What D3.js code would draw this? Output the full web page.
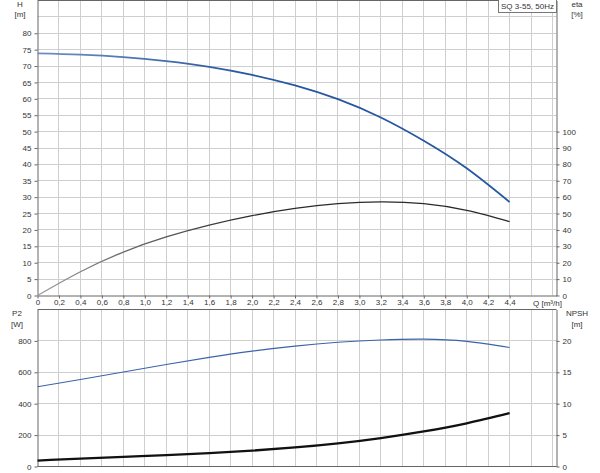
<!DOCTYPE html>
<html><head><meta charset="utf-8">
<script src="https://cdn.jsdelivr.net/npm/d3@7"></script>
<style>
html,body{margin:0;padding:0;background:#fff;}
svg{display:block;font-family:"Liberation Sans",Arial,sans-serif;}
.tick text{font-size:8px;fill:#333;}
.lbl{font-size:8px;fill:#333;}
</style></head>
<body>
<svg id="c" width="600" height="473"></svg>
<script>
// ---- data ----
const flow = [0, 0.4, 0.8, 1.2, 1.6, 2.0, 2.4, 2.8, 3.2, 3.6, 4.0, 4.4];
const head = [73.9, 73.5, 72.75, 71.5, 69.75, 67.3, 64.1, 59.9, 54.3, 47.2, 38.8, 28.5];
const eta  = [0, 14.5, 26.5, 35.7, 42.9, 48.7, 53.1, 56.0, 57.1, 56.0, 51.9, 45.1];
const p2   = [508, 554, 602, 650, 695, 735, 767, 791, 806, 811, 797, 758];
const npsh = [0.95, 1.25, 1.53, 1.81, 2.13, 2.53, 3.03, 3.68, 4.53, 5.58, 6.88, 8.5];
const qTicks = [0,0.2,0.4,0.6,0.8,1.0,1.2,1.4,1.6,1.8,2.0,2.2,2.4,2.6,2.8,3.0,3.2,3.4,3.6,3.8,4.0,4.2,4.4];
const qGrid = [0.2,0.4,0.6,0.8,1.0,1.2,1.4,1.6,1.8,2.0,2.2,2.4,2.6,2.8,3.0,3.2,3.4,3.6,3.8,4.0,4.2,4.4,4.6,4.8];
const hTicks = [0,5,10,15,20,25,30,35,40,45,50,55,60,65,70,75,80];
const hGrid = [5,10,15,20,25,30,35,40,45,50,55,60,65,70,75,80,85];
const etaTicks = [0,10,20,30,40,50,60,70,80,90,100];
const p2Ticks = [0,200,400,600,800];
const p2Grid = [200,400,600,800];
const npshTicks = [0,5,10,15,20];
const title = "SQ 3-55, 50Hz";

// ---- layout ----
const svg = d3.select("#c");
const L = 37.5, R = 556.5;
const x = d3.scaleLinear().domain([0, 4.837]).range([L, R]);
const topY0 = 295.5, topY1 = 0.5;
const yH = d3.scaleLinear().domain([0, 90]).range([topY0, topY1]);
const yE = d3.scaleLinear().domain([0, 180]).range([topY0, topY1]);
const botY0 = 466.5, botY1 = 309.5;
const yP = d3.scaleLinear().domain([0, 1000]).range([botY0, botY1]);
const yN = d3.scaleLinear().domain([0, 25]).range([botY0, botY1]);

const gridCol = "#cfcfcf", axCol = "#666";
const crisp = v => Math.round(v - 0.5) + 0.5;

function grid(y, yTop, yBot, hvals) {
  const g = svg.append("g");
  g.selectAll("line.v").data(qGrid).join("line").attr("class", "v")
    .attr("x1", d => crisp(x(d))).attr("x2", d => crisp(x(d)))
    .attr("y1", yTop).attr("y2", yBot)
    .attr("stroke", gridCol).attr("stroke-width", 1);
  g.selectAll("line.h").data(hvals).join("line").attr("class", "h")
    .attr("x1", L).attr("x2", R)
    .attr("y1", d => crisp(y(d))).attr("y2", d => crisp(y(d)))
    .attr("stroke", gridCol).attr("stroke-width", 1);
}
grid(yH, topY1, topY0, hGrid);
grid(yP, botY1, botY0, p2Grid);

function styleAxis(g) {
  g.select(".domain").attr("stroke", axCol);
  g.selectAll(".tick line").attr("stroke", axCol);
}

// top panel axes
const fmtQ = d => d === 0 ? "0" : d.toFixed(1).replace(".", ",");
svg.append("g").attr("transform", `translate(${L},0)`)
  .call(d3.axisLeft(yH).tickValues(hTicks).tickSize(3).tickSizeOuter(0).tickPadding(3))
  .call(styleAxis);
svg.append("g").attr("transform", `translate(${R},0)`)
  .call(d3.axisRight(yE).tickValues(etaTicks).tickSize(3).tickSizeOuter(0).tickPadding(3))
  .call(styleAxis);
svg.append("g").attr("transform", `translate(0,${topY0})`)
  .call(d3.axisBottom(x).tickValues(qTicks).tickFormat(fmtQ).tickSize(3).tickSizeOuter(0).tickPadding(1))
  .call(styleAxis);
svg.append("line").attr("x1", L).attr("x2", R).attr("y1", topY1).attr("y2", topY1).attr("stroke", axCol);

// bottom panel axes
svg.append("g").attr("transform", `translate(${L},0)`)
  .call(d3.axisLeft(yP).tickValues(p2Ticks).tickSize(3).tickSizeOuter(0).tickPadding(3))
  .call(styleAxis);
svg.append("g").attr("transform", `translate(${R},0)`)
  .call(d3.axisRight(yN).tickValues(npshTicks).tickSize(3).tickSizeOuter(0).tickPadding(3))
  .call(styleAxis);
svg.append("line").attr("x1", L).attr("x2", R).attr("y1", botY0).attr("y2", botY0).attr("stroke", axCol);
svg.append("line").attr("x1", L).attr("x2", R).attr("y1", botY1).attr("y2", botY1).attr("stroke", axCol);

// labels
function lbl(t, xx, yy, anchor) {
  svg.append("text").attr("class", "lbl").attr("x", xx).attr("y", yy)
    .attr("text-anchor", anchor || "middle").text(t);
}
lbl("H", 20, 7); lbl("[m]", 20, 17);
lbl("eta", 577, 7); lbl("[%]", 577, 17);
lbl("Q [m³/h]", 533, 306, "start");
lbl("P2", 17, 316); lbl("[W]", 17, 327);
lbl("NPSH", 577, 316); lbl("[m]", 577, 327);

// legend box
svg.append("rect").attr("x", 498.5).attr("y", -1).attr("width", 58).attr("height", 13.5)
  .attr("fill", "#fff").attr("stroke", "#777");
lbl(title, 527.5, 9);

// gradients (curves fade in from the left as in the reference)
const defs = svg.append("defs");
function grad(id, c0, c1) {
  const g = defs.append("linearGradient").attr("id", id)
    .attr("gradientUnits", "userSpaceOnUse")
    .attr("x1", L).attr("x2", x(4.4)).attr("y1", 0).attr("y2", 0);
  g.append("stop").attr("offset", 0).attr("stop-color", c0);
  g.append("stop").attr("offset", 0.45).attr("stop-color", c1);
  g.append("stop").attr("offset", 1).attr("stop-color", c1);
}
grad("gEta", "#9a9a9a", "#2a2a2a");
grad("gH", "#6f8fc0", "#2657a0");

function curve(vals, y, color, w) {
  const pts = flow.map((q, i) => [q, vals[i]]);
  svg.append("path").datum(pts)
    .attr("d", d3.line().x(d => x(d[0])).y(d => y(d[1])).curve(d3.curveNatural))
    .attr("fill", "none").attr("stroke", color).attr("stroke-width", w)
    .attr("stroke-linecap", "butt");
}
curve(eta, yE, "url(#gEta)", 1.3);
curve(head, yH, "url(#gH)", 1.8);
curve(p2, yP, "#3b64a8", 1.1);
curve(npsh, yN, "#111", 2.3);
</script>
</body></html>
